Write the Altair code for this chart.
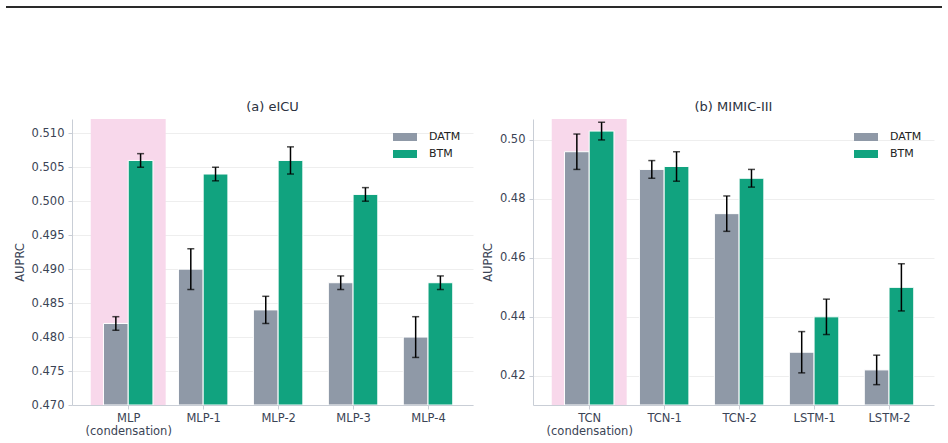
import json
import altair as alt
import pandas as pd

# ---- data ----
series_names = ["DATM", "BTM"]
series_colors = ["#8f99a7", "#11a37f"]

eicu_labels = [["MLP", "(condensation)"], "MLP-1", "MLP-2", "MLP-3", "MLP-4"]
eicu_datm = [0.482, 0.490, 0.484, 0.488, 0.480]
eicu_datm_err = [0.001, 0.003, 0.002, 0.001, 0.003]
eicu_btm = [0.506, 0.504, 0.506, 0.501, 0.488]
eicu_btm_err = [0.001, 0.001, 0.002, 0.001, 0.001]
eicu_ticks = [0.470, 0.475, 0.480, 0.485, 0.490, 0.495, 0.500, 0.505, 0.510]
eicu_ydomain = [0.470, 0.5121]

mimic_labels = [["TCN", "(condensation)"], "TCN-1", "TCN-2", "LSTM-1", "LSTM-2"]
mimic_datm = [0.496, 0.490, 0.475, 0.428, 0.422]
mimic_datm_err = [0.006, 0.003, 0.006, 0.007, 0.005]
mimic_btm = [0.503, 0.491, 0.487, 0.440, 0.450]
mimic_btm_err = [0.003, 0.005, 0.003, 0.006, 0.008]
mimic_ticks = [0.42, 0.44, 0.46, 0.48, 0.50]
mimic_ydomain = [0.4101, 0.5071]

highlight_index = [0]

FONT = "DejaVu Sans"
TEXT = "#3b4455"
AXIS = "#c9ced6"
PINK = "#f8d8eb"
BAR_W = 0.33


def panel(title, labels, datm, datm_err, btm, btm_err, ydomain, ticks, fmt,
          title_x, rule_x, rule_x2):
    rows = []
    for i in range(len(labels)):
        for s, vals, errs in (("DATM", datm, datm_err), ("BTM", btm, btm_err)):
            x0 = i - BAR_W if s == "DATM" else i
            rows.append(dict(idx=i, series=s, value=vals[i], lo=vals[i] - errs[i],
                             hi=vals[i] + errs[i], x0=x0, x1=x0 + BAR_W,
                             xc=x0 + BAR_W / 2))
    df = pd.DataFrame(rows)
    hl = pd.DataFrame([dict(x0=i - 0.5, x1=i + 0.5, ytop=ydomain[1], ybot=ydomain[0])
                       for i in highlight_index])

    label_expr = json.dumps(labels) + "[datum.value]"
    xscale = alt.Scale(domain=[-0.75, 4.6], nice=False, zero=False)
    yscale = alt.Scale(domain=ydomain, nice=False, zero=False)
    xaxis = alt.Axis(values=list(range(len(labels))), labelExpr=label_expr, grid=False,
                     title=None, tickSize=4, labelPadding=3, labelFontSize=11.5,
                     labelLineHeight=13, labelColor=TEXT, labelFont=FONT,
                     domainColor=AXIS, tickColor=AXIS, labelBaseline="top",
                     labelOverlap=False, tickCount=len(labels) + 2)
    yaxis = alt.Axis(values=ticks, tickCount=len(ticks) + 2, format=fmt, grid=True,
                     gridColor="#eeeeee",
                     tickSize=4, labelPadding=4, labelFontSize=11.5, labelColor=TEXT,
                     labelFont=FONT, domainColor=AXIS, tickColor=AXIS,
                     labelOverlap=False,
                     title="AUPRC", titleFont=FONT, titleFontSize=11.5,
                     titleFontWeight="normal", titleColor=TEXT, titleX=title_x)

    pink = alt.Chart(hl).mark_rect(color=PINK).encode(
        x=alt.X("x0:Q", scale=xscale, axis=xaxis),
        x2="x1:Q",
        y=alt.Y("ytop:Q", scale=yscale, axis=yaxis),
        y2="ybot:Q",
    )
    bars = alt.Chart(df).mark_bar(stroke="white", strokeWidth=1, clip=True).encode(
        x=alt.X("x0:Q", scale=xscale, axis=xaxis),
        x2="x1:Q",
        y=alt.Y("value:Q", scale=yscale, axis=yaxis),
        y2=alt.Y2(datum=ydomain[0]),
        color=alt.Color("series:N",
                        scale=alt.Scale(domain=series_names, range=series_colors),
                        legend=alt.Legend(title=None, orient="none", legendX=321,
                                          legendY=6, symbolType="M-1,-0.333H1V0.333H-1Z",
                                          symbolSize=576, symbolStrokeWidth=0,
                                          labelFont=FONT, labelFontSize=11,
                                          labelColor="#222222", labelOffset=12,
                                          rowPadding=-8, padding=0)),
    )
    err = alt.Chart(df).mark_rule(color="black", strokeWidth=1.5).encode(
        x="xc:Q", y="lo:Q", y2="hi:Q")
    caps = alt.Chart(df).transform_fold(["lo", "hi"], as_=["k", "v"]).mark_tick(
        color="black", orient="horizontal", size=7, thickness=1.5).encode(
        x="xc:Q", y="v:Q")
    topline = alt.Chart(alt.Data(values=[{}])).mark_rule(
        color="#2a2a2a", strokeWidth=2, strokeCap="butt").encode(
        x=alt.value(rule_x), x2=alt.value(rule_x2), y=alt.value(-112))

    return alt.layer(pink, bars, err, caps, topline).properties(
        width=401, height=286,
        title=alt.TitleParams(title, font=FONT, fontSize=13, fontWeight="normal",
                              color="#2b3240", offset=6, anchor="middle", dy=114),
    )


left = panel("(a) eICU", eicu_labels, eicu_datm, eicu_datm_err, eicu_btm, eicu_btm_err,
             eicu_ydomain, eicu_ticks, ".3f", -47, -66, 401)
right = panel("(b) MIMIC-III", mimic_labels, mimic_datm, mimic_datm_err, mimic_btm,
              mimic_btm_err, mimic_ydomain, mimic_ticks, ".2f", -40, -60, 409)

chart = alt.hconcat(left, right, spacing=-2).resolve_legend(
    color="independent"
).resolve_scale(color="independent").properties(
    padding={"left": 5, "top": 6, "right": 0, "bottom": 0}
).configure_view(stroke=None)

chart.save("out.html", embed_options={"renderer": "svg", "actions": False})
